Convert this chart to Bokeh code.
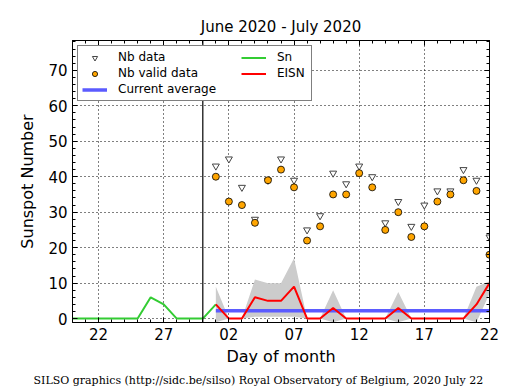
from bokeh.plotting import figure
from bokeh.models import (Range1d, FixedTicker, LinearAxis, Span, Legend,
                          LegendItem, Title)
from bokeh.embed import file_html
from bokeh.resources import INLINE

# ---- data (day numbers counted from June 1: June 20 = 20, July 1 = 31) ----
sn_days = [20, 21, 22, 23, 24, 25, 26, 27, 28, 29, 30, 31]
sn_values = [0, 0, 0, 0, 0, 0, 6, 4, 0, 0, 0, 4]

eisn_days = [31, 32, 33, 34, 35, 36, 37, 38, 39, 40, 41,
             42, 43, 44, 45, 46, 47, 48, 49, 50, 51, 52]
eisn_values = [4, 0, 0, 6, 5, 5, 9, 0, 0, 3, 0,
               0, 0, 0, 3, 0, 0, 0, 0, 0, 4, 10]
band_upper = [9, 0, 0, 11, 10, 10, 17, 0, 0, 8, 0,
              0, 0, 0, 7.5, 0, 0, 0, 0, 0, 9, 10.5]
band_lower = [-1, 0, 0, 0.5, 0.5, 0.5, 0.5, 0, 0, -1, 0,
              0, 0, 0, -1, 0, 0, 0, 0, 0, -1, 7]
nb_data = [43, 45, 37, 28, 39, 45, 39, 25, 29, 41, 38,
           43, 40, 27, 33, 26, 32, 36, 36, 42, 39, 23]
nb_valid = [40, 33, 32, 27, 39, 42, 37, 22, 26, 35, 35,
            41, 37, 25, 30, 23, 26, 33, 35, 39, 36, 18]

avg_days = [31, 52]
avg_values = [2.2, 2.2]

month_boundary = 30

x_ticks = [22, 27, 32, 37, 42, 47, 52]
x_tick_labels = ["22", "27", "02", "07", "12", "17", "22"]
x_minor = list(range(20, 53))
y_ticks = [0, 10, 20, 30, 40, 50, 60, 70]
y_minor = list(range(0, 79, 2))

FONT = "DejaVu Sans"

p = figure(width=515, height=390, output_backend="svg", toolbar_location=None,
           x_range=Range1d(20, 52), y_range=Range1d(-1.1, 78.4),
           min_border_left=72, min_border_right=26, min_border_top=40,
           min_border_bottom=66)
p.background_fill_color = "white"
p.outline_line_color = "black"
p.outline_line_width = 1

p.title.text = "June 2020 - July 2020"
p.title.align = "center"
p.title.text_font = FONT
p.title.text_font_size = "15px"
p.title.text_font_style = "normal"
p.title.text_color = "black"

xt = FixedTicker(ticks=x_ticks, minor_ticks=x_minor)
yt = FixedTicker(ticks=y_ticks, minor_ticks=y_minor)

for ax in (p.xaxis[0], p.yaxis[0]):
    ax.major_tick_in = 5
    ax.major_tick_out = 0
    ax.minor_tick_in = 3
    ax.minor_tick_out = 0
    ax.axis_line_color = "black"
    ax.major_tick_line_color = "black"
    ax.minor_tick_line_color = "black"
    ax.major_label_text_font = FONT
    ax.major_label_text_font_size = "15px"
    ax.major_label_text_color = "black"
    ax.axis_label_text_font = FONT
    ax.axis_label_text_font_size = "16px"
    ax.axis_label_text_font_style = "normal"
    ax.axis_label_text_color = "black"

p.xaxis[0].ticker = xt
p.xaxis[0].major_label_overrides = {t: l for t, l in zip(x_ticks, x_tick_labels)}
p.xaxis[0].axis_label = "Day of month"
p.xaxis[0].major_label_standoff = 5
p.xaxis[0].axis_label_standoff = 4
p.yaxis[0].ticker = yt
p.yaxis[0].axis_label = "Sunspot Number"
p.yaxis[0].major_label_standoff = 5
p.yaxis[0].axis_label_standoff = 8

for side, tk, ticks in (("right", yt, y_ticks), ("above", xt, x_ticks)):
    ax = LinearAxis(ticker=tk)
    ax.major_tick_in = 5
    ax.major_tick_out = 0
    ax.minor_tick_in = 3
    ax.minor_tick_out = 0
    ax.major_label_overrides = {t: "" for t in ticks}
    ax.major_label_text_font_size = "1px"
    ax.major_label_standoff = 0
    ax.axis_line_color = "black"
    p.add_layout(ax, side)

p.xgrid.ticker = xt
p.ygrid.ticker = yt
for g in (p.xgrid[0], p.ygrid[0]):
    g.grid_line_color = "black"
    g.grid_line_dash = "1 3"
    g.grid_line_width = 1

p.varea(x=eisn_days, y1=band_lower, y2=band_upper, fill_color="#cccccc")
r_avg = p.line(avg_days, avg_values, line_color="#5b5bff", line_width=3.5)
r_sn = p.line(sn_days, sn_values, line_color="#33cc33", line_width=2)
r_eisn = p.line(eisn_days, eisn_values, line_color="red", line_width=2)

p.add_layout(Span(location=month_boundary, dimension="height",
                  line_color="black", line_width=1.2))

r_nb = p.scatter(eisn_days, nb_data, marker="inverted_triangle", size=7,
                 fill_color="white", line_color="#444444", line_width=1)
r_valid = p.scatter(eisn_days, nb_valid, marker="circle", size=7,
                    fill_color="orange", line_color="black", line_width=0.8)

leg_common = dict(padding=4, spacing=2, glyph_height=13, glyph_width=25,
                  label_height=13, label_standoff=11,
                  label_text_font=FONT, label_text_font_size="12px",
                  label_text_color="black")
legend1 = Legend(items=[LegendItem(label="Nb data", renderers=[r_nb]),
                        LegendItem(label="Nb valid data", renderers=[r_valid]),
                        LegendItem(label="Current average", renderers=[r_avg])],
                 location="top_left", margin=5, label_width=189,
                 border_line_color="black", border_line_width=1,
                 background_fill_color="white", background_fill_alpha=1,
                 **leg_common)
legend2 = Legend(items=[LegendItem(label="Sn", renderers=[r_sn]),
                        LegendItem(label="EISN", renderers=[r_eisn])],
                 location=(169, 242), border_line_color=None,
                 background_fill_alpha=0, **leg_common)
p.add_layout(legend1)
p.add_layout(legend2)

footer = Title(text="SILSO graphics (http://sidc.be/silso) Royal Observatory of Belgium, 2020 July 22",
               align="left", offset=-39, standoff=7, text_font="DejaVu Serif",
               text_font_size="11px", text_font_style="normal", text_color="black")
p.add_layout(footer, "below")

open("out.html", "w").write(file_html(p, INLINE))
